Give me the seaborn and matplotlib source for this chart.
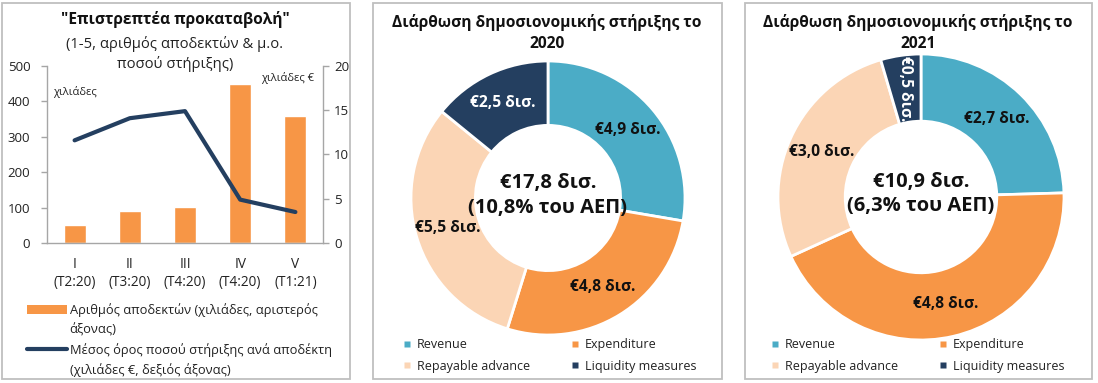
import numpy as np
import pandas as pd
import matplotlib
matplotlib.use("Agg")
import matplotlib.pyplot as plt
import seaborn as sns
from matplotlib.patches import Patch, Rectangle
from matplotlib.lines import Line2D

# ---------------- data ----------------
rounds = ["I", "II", "III", "IV", "V"]
quarters = ["(T2:20)", "(T3:20)", "(T4:20)", "(T4:20)", "(T1:21)"]
recipients = [52, 90, 102, 448, 360]          # thousands (left axis)
avg_support = [11.6, 14.1, 14.9, 4.9, 3.5]    # thousand € (right axis)

pie_categories = ["Revenue", "Expenditure", "Repayable advance", "Liquidity measures"]
support_2020 = [4.9, 4.8, 5.5, 2.5]
support_2021 = [2.7, 4.8, 3.0, 0.5]
total_2020 = "€17,8 δισ.\n(10,8% του ΑΕΠ)"
total_2021 = "€10,9 δισ.\n(6,3% του ΑΕΠ)"

left_ticks = [0, 100, 200, 300, 400, 500]
right_ticks = [0, 5, 10, 15, 20]

# ---------------- style ----------------
sns.set_theme(style="white")
plt.rcParams["font.family"] = ["Open Sans", "DejaVu Sans"]

ORANGE = "#F79646"
NAVY = "#243F60"
TEAL = "#4BACC6"
PEACH = "#FBD5B5"
GRAY = "#A6A6A6"
TXT = "#222222"
pie_colors = [TEAL, ORANGE, PEACH, NAVY]

W, H = 1098, 383
fig = plt.figure(figsize=(W / 100, H / 100), dpi=100)
fig.patch.set_facecolor("white")


def fx(x):
    return x / W


def fy(y):
    return 1 - y / H


# panel borders
for x0, x1 in [(2, 350), (373, 722), (745, 1092)]:
    fig.add_artist(Rectangle((fx(x0), fy(379)), fx(x1) - fx(x0), fy(3) - fy(379),
                             transform=fig.transFigure, fill=False,
                             edgecolor="#BFBFBF", linewidth=1.3))

# ---------------- panel 1: bars + line ----------------
df = pd.DataFrame({
    "cat": [f"{r}\n{q}" for r, q in zip(rounds, quarters)],
    "recipients": recipients,
    "avg": avg_support,
})
df["pos"] = np.arange(len(df))

ax = fig.add_axes([fx(47), fy(243), fx(323) - fx(47), fy(66) - fy(243)])
sns.barplot(data=df, x="cat", y="recipients", color=ORANGE, saturation=1,
            width=0.4, ax=ax)
ax.set_ylim(0, 500)
ax.set_xlim(-0.5, len(df) - 0.5)
ax.set_yticks(left_ticks)
ax.set_xlabel("")
ax.set_ylabel("")
for s in ["top", "right"]:
    ax.spines[s].set_visible(False)
for s in ["left", "bottom"]:
    ax.spines[s].set_color(GRAY)
    ax.spines[s].set_linewidth(1.0)
ax.tick_params(axis="y", which="both", left=True, length=4, width=1, color=GRAY,
               pad=8, labelsize=9.5, labelcolor=TXT)
ax.tick_params(axis="x", bottom=False, pad=4, labelsize=9.8, labelcolor=TXT)
for t in ax.get_xticklabels():
    t.set_linespacing(1.3)

ax2 = ax.twinx()
sns.lineplot(data=df, x="pos", y="avg", color=NAVY, linewidth=3, ax=ax2)
ax2.set_ylim(0, 20)
ax2.set_yticks(right_ticks)
ax2.set_xlim(-0.5, len(df) - 0.5)
ax2.set_ylabel("")
ax2.set_xlabel("")
for s in ["top", "left", "bottom"]:
    ax2.spines[s].set_visible(False)
ax2.spines["right"].set_color(GRAY)
ax2.spines["right"].set_linewidth(1.0)
ax2.tick_params(axis="y", right=True, length=4, width=1, color=GRAY, pad=4,
                labelsize=9.5, labelcolor=TXT)
ax2.grid(False)
ax.grid(False)

fig.text(fx(175), fy(20), "\"Επιστρεπτέα προκαταβολή\"", ha="center", va="center",
         fontsize=11.2, fontweight="bold", color="#111111")
fig.text(fx(175), fy(54), "(1-5, αριθμός αποδεκτών & μ.ο.\nποσού στήριξης)",
         ha="center", va="center", fontsize=10.6, color=TXT, linespacing=1.25)
fig.text(fx(53), fy(92), "χιλιάδες", ha="left", va="center", fontsize=8, color=TXT)
fig.text(fx(314), fy(78), "χιλιάδες €", ha="right", va="center", fontsize=8, color=TXT)

blank = Line2D([], [], linestyle="none")
handles = [Patch(facecolor=ORANGE, edgecolor="none"), blank,
           Line2D([], [], color=NAVY, linewidth=3), blank]
labels = ["Αριθμός αποδεκτών (χιλιάδες, αριστερός", "άξονας)",
          "Μέσος όρος ποσού στήριξης ανά αποδέκτη", "(χιλιάδες €, δεξιός άξονας)"]
leg = fig.legend(handles, labels, loc="upper left", bbox_to_anchor=(fx(27), fy(303)),
                 frameon=False, fontsize=9.3, handlelength=3.1, handletextpad=0.2,
                 labelspacing=0.5, borderaxespad=0, borderpad=0)
for t in leg.get_texts():
    t.set_color(TXT)


# ---------------- donuts ----------------
def fmt(v):
    return "€" + f"{v:.1f}".replace(".", ",") + " δισ."


def donut(cx, cy, r, values, center_text, title, title_x, legend_x):
    half = 150
    axp = fig.add_axes([fx(cx - half), fy(cy + half), fx(2 * half), 2 * half / H])
    wedges, _ = axp.pie(values, colors=pie_colors, startangle=90, counterclock=False,
                        radius=1, wedgeprops=dict(width=0.47, edgecolor="white",
                                                  linewidth=2))
    lim = half / r
    axp.set_xlim(-lim, lim)
    axp.set_ylim(-lim, lim)
    axp.set_aspect("equal", adjustable="datalim")
    axp.axis("off")
    for w, v, c in zip(wedges, values, pie_colors):
        ang = np.deg2rad((w.theta1 + w.theta2) / 2)
        rr = 0.765
        tc = "white" if c == NAVY else "#111111"
        rot = 0
        if (w.theta2 - w.theta1) < 25:
            rot = -90
        axp.text(rr * np.cos(ang), rr * np.sin(ang), fmt(v), ha="center", va="center",
                 fontsize=11.2, fontweight="bold", color=tc, rotation=rot)
    axp.text(0, 0.02, center_text, ha="center", va="center", fontsize=14.5,
             fontweight="bold", color="#111111", linespacing=1.3)
    fig.text(fx(title_x), fy(33), title, ha="center", va="center", fontsize=11.2,
             fontweight="bold", color="#111111", linespacing=1.35)
    hs = [Line2D([], [], marker="s", linestyle="none", markersize=4.5,
                 markerfacecolor=c, markeredgecolor="none") for c in pie_colors]
    order = [0, 2, 1, 3]  # legend fills column-wise; this gives row-wise reading order
    lg = fig.legend([hs[i] for i in order], [pie_categories[i] for i in order],
                    loc="upper left", ncol=2,
                    bbox_to_anchor=(fx(legend_x), fy(338)), frameon=False, fontsize=9,
                    handlelength=0.6, handletextpad=0.5, columnspacing=3.3,
                    labelspacing=0.7, borderaxespad=0, borderpad=0)
    for t in lg.get_texts():
        t.set_color(TXT)


donut(548, 198, 137, support_2020, total_2020,
      "Διάρθωση δημοσιονομικής στήριξης το\n2020", 547, 403)
donut(921, 197, 143, support_2021, total_2021,
      "Διάρθωση δημοσιονομικής στήριξης το\n2021", 918, 771)

fig.savefig("out.png", dpi=100, facecolor="white")
